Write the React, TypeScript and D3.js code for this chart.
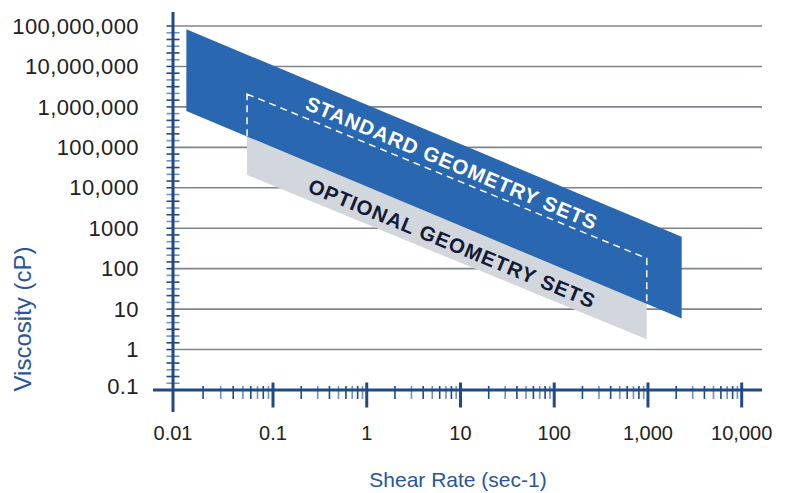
import React from 'react';
import * as d3 from 'd3';

const W = 788, H = 493;

// axis values
const xTicks = [0.01, 0.1, 1, 10, 100, 1000, 10000];
const xTickLabels = ['0.01', '0.1', '1', '10', '100', '1,000', '10,000'];
const yTicks = [0.1, 1, 10, 100, 1000, 1e4, 1e5, 1e6, 1e7, 1e8];
const yTickLabels = ['0.1', '1', '10', '100', '1000', '10,000', '100,000', '1,000,000', '10,000,000', '100,000,000'];

// bands: [left, right] shear rate, top/bottom viscosity at each end
const standardShear = [0.0136, 2290];
const standardTop = [8.3e7, 617];
const standardBottom = [7.9e5, 5.9];
const optionalShear = [0.055, 970];
const optionalTop = [2.08e6, 180];
const optionalBottom = [2.07e4, 1.79];

// label anchors (shear, viscosity) at baseline start
const standardLabel = { text: 'STANDARD GEOMETRY SETS', shear: 0.214, visc: 8.9e5 };
const optionalLabel = { text: 'OPTIONAL GEOMETRY SETS', shear: 0.2286, visc: 8.1e3 };

const AXIS = '#1f4a86';
const AXIS_LIGHT = '#7391bb';
const GRID = '#7c8393';
const BLUE = '#2a67b1';
const GRAY = '#d2d6dd';
const NAVY = '#121a36';

const x = d3.scaleLog().domain([0.01, 0.1, 10000]).range([173, 273, 741.7]);
const y = d3.scaleLog().domain([0.1, 1e8]).range([390, 26]);

const bandPoints = (shear: number[], top: number[], bottom: number[]) =>
  [
    [x(shear[0]), y(top[0])],
    [x(shear[1]), y(top[1])],
    [x(shear[1]), y(bottom[1])],
    [x(shear[0]), y(bottom[0])],
  ] as [number, number][];

const line = d3.line();

const angleOf = (shear: number[], top: number[]) =>
  (Math.atan2(y(top[1]) - y(top[0]), x(shear[1]) - x(shear[0])) * 180) / Math.PI;

export default function App() {
  const std = bandPoints(standardShear, standardTop, standardBottom);
  const opt = bandPoints(optionalShear, optionalTop, optionalBottom);
  const stdAngle = angleOf(standardShear, standardTop);
  const optAngle = angleOf(optionalShear, optionalTop);

  const x0 = x(0.01);
  const xAxisY = y(0.1);

  // minor ticks
  const xMinor: number[] = [];
  for (let i = 0; i < xTicks.length - 1; i++) {
    for (let k = 2; k <= 9; k++) xMinor.push(xTicks[i] * k);
  }
  const yMinor: number[] = [];
  for (let i = 0; i < yTicks.length - 1; i++) {
    const a = y(yTicks[i]), b = y(yTicks[i + 1]);
    for (let k = 1; k <= 5; k++) yMinor.push(a + ((b - a) * k) / 6);
  }

  const font = '"Liberation Sans", Arial, Helvetica, sans-serif';

  return (
    <svg width={W} height={H} style={{ position: 'absolute', left: 0, top: 0, background: '#fff' }} fontFamily={font}>
      <defs>
        <clipPath id="stdClip">
          <path d={line(std) + 'Z'} />
        </clipPath>
      </defs>

      {/* grid */}
      {yTicks.slice(1).map(v => (
        <line key={v} x1={x0} x2={762} y1={y(v)} y2={y(v)} stroke={GRID} strokeWidth={1.6} />
      ))}

      {/* bands */}
      <path d={line(opt) + 'Z'} fill={GRAY} />
      <path d={line(std) + 'Z'} fill={BLUE} />
      <path
        d={line(opt) + 'Z'}
        fill="none"
        stroke="#fff"
        strokeWidth={1.5}
        strokeDasharray="7 5"
        clipPath="url(#stdClip)"
      />

      <text
        transform={`translate(${x(standardLabel.shear)},${y(standardLabel.visc)}) rotate(${stdAngle})`}
        fill="#fff"
        fontSize={20.5}
        fontWeight="bold"
        letterSpacing={0.9}
      >
        {standardLabel.text}
      </text>
      <text
        transform={`translate(${x(optionalLabel.shear)},${y(optionalLabel.visc)}) rotate(${optAngle})`}
        fill={NAVY}
        fontSize={20.5}
        fontWeight="bold"
        letterSpacing={1}
      >
        {optionalLabel.text}
      </text>

      {/* y axis minor ticks */}
      {yMinor.map((py, i) => (
        <line key={'ym' + i} x1={x0 - 6.5} x2={x0 + 6.5} y1={py} y2={py} stroke={i % 2 ? AXIS : AXIS_LIGHT} strokeWidth={1.6} />
      ))}
      {yTicks.slice(1).map(v => (
        <line key={'yM' + v} x1={x0 - 6.5} x2={x0} y1={y(v)} y2={y(v)} stroke={AXIS} strokeWidth={1.6} />
      ))}

      {/* x axis minor ticks */}
      {xMinor.map((v, i) => (
        <line key={'xm' + i} x1={x(v)} x2={x(v)} y1={xAxisY - 4} y2={xAxisY + 9} stroke={i % 2 ? AXIS_LIGHT : AXIS} strokeWidth={1.6} />
      ))}
      {xTicks.slice(1).map(v => (
        <line key={'xM' + v} x1={x(v)} x2={x(v)} y1={xAxisY - 7.5} y2={xAxisY + 17.5} stroke={AXIS} strokeWidth={3} />
      ))}

      {/* axes */}
      <line x1={153} x2={762} y1={xAxisY} y2={xAxisY} stroke={AXIS} strokeWidth={3} />
      <line x1={x0} x2={x0} y1={12} y2={412} stroke={AXIS} strokeWidth={3} />

      {/* tick labels */}
      {yTicks.map((v, i) => (
        <text key={'yl' + v} x={139} y={v === 0.1 ? y(v) - 4 : y(v)} dy="0.35em" textAnchor="end" fontSize={22} letterSpacing={0.4} fill="#222">
          {yTickLabels[i]}
        </text>
      ))}
      {xTicks.map((v, i) => (
        <text key={'xl' + v} x={x(v)} y={433} dy="0.35em" textAnchor="middle" fontSize={20} fill="#222">
          {xTickLabels[i]}
        </text>
      ))}

      {/* titles */}
      <text x={458} y={480} dy="0.35em" textAnchor="middle" fontSize={21} fill="#2a5699">
        Shear Rate (sec-1)
      </text>
      <text transform="translate(23,319) rotate(-90)" dy="0.35em" textAnchor="middle" fontSize={24} fill="#2a5699">
        Viscosity (cP)
      </text>
    </svg>
  );
}
